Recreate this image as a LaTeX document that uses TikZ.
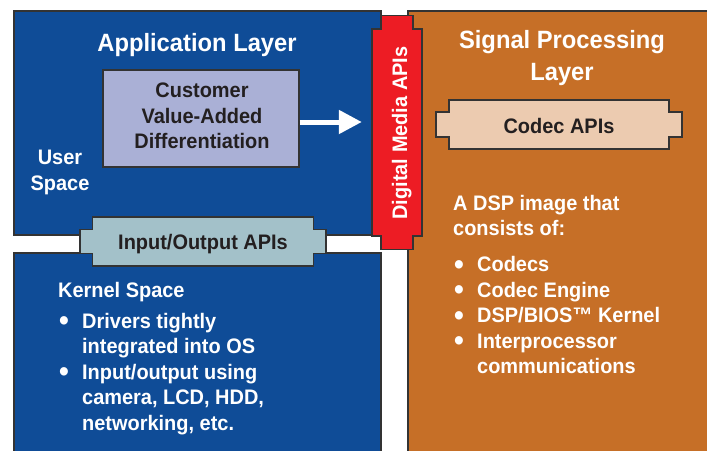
\documentclass[tikz,border=0pt]{standalone}
\usepackage{fontspec}
\setmainfont{Liberation Sans}[FakeStretch=0.95]
\usetikzlibrary{arrows.meta,calc}

\definecolor{appblue}{HTML}{0F4C97}
\definecolor{dsporange}{HTML}{C66F27}
\definecolor{dmred}{HTML}{ED1C24}
\definecolor{custlav}{HTML}{AAB0D6}
\definecolor{iogray}{HTML}{A3C1C9}
\definecolor{codecpeach}{HTML}{ECCBB0}
\definecolor{edgegray}{HTML}{333333}
\definecolor{darktext}{HTML}{231F20}

% bullet and indent for the lists
\newcommand{\bul}{\makebox[24pt][l]{\hspace{1pt}\raisebox{-2.5pt}[0pt][0pt]{\scalebox{1.4}{\textbullet}}}}
\newcommand{\ind}{\hspace*{24pt}}
% notched outline round a node: node, wide half w/h, narrow half w/h
\newcommand{\notchshape}[5]{%
  ($(#1)+(-#4,-#5)$) -- ($(#1)+(#4,-#5)$) -- ($(#1)+(#4,-#3)$) -- ($(#1)+(#2,-#3)$)
  -- ($(#1)+(#2,#3)$) -- ($(#1)+(#4,#3)$) -- ($(#1)+(#4,#5)$) -- ($(#1)+(-#4,#5)$)
  -- ($(#1)+(-#4,#3)$) -- ($(#1)+(-#2,#3)$) -- ($(#1)+(-#2,-#3)$) -- ($(#1)+(-#4,-#3)$) -- cycle}

\begin{document}
\begin{tikzpicture}[x=1pt,y=-1pt,
    layerbox/.style={draw=edgegray,line width=1.5pt,anchor=north west,inner sep=0},
    apibox/.style={draw=edgegray,line width=1.5pt},
    heading/.style={text=white,font=\bfseries\fontsize{25}{32}\selectfont,align=center,inner sep=0},
    bodytext/.style={text=white,font=\bfseries\fontsize{21}{25.5}\selectfont,align=left,inner sep=0,anchor=north west},
    apitext/.style={text=darktext,font=\bfseries\fontsize{21}{25.5}\selectfont,inner sep=0}]

  \useasboundingbox (0,0) rectangle (707,450);
  \clip (0,0) rectangle (707,450);

  % Layer boxes
  \node[layerbox,fill=appblue,minimum width=367pt,minimum height=224pt] (app) at (13,10) {};
  \node[layerbox,fill=appblue,minimum width=367pt,minimum height=220pt] (kernel) at (13,252) {};
  \node[layerbox,fill=dsporange,minimum width=320pt,minimum height=460pt] (dsp) at (407,10) {};

  % Customer block and arrow
  \node[apibox,fill=custlav,minimum width=196pt,minimum height=97pt] (cust) at (201,118.5) {};
  \node[apitext,align=center] (custtext) at (202,116) {Customer\\Value-Added\\Differentiation};

  % API bars
  \node[inner sep=0,minimum width=246pt,minimum height=24pt] (io) at (203,241.5) {};
  \filldraw[apibox,fill=iogray] \notchshape{io}{123}{12}{110.5}{24.5};
  \node[apitext,anchor=base] (iotext) at (203,249) {Input/Output APIs};

  \node[inner sep=0,minimum width=246pt,minimum height=25pt] (codec) at (559,124.5) {};
  \filldraw[apibox,fill=codecpeach] \notchshape{codec}{123}{12.5}{110}{24.5};
  \node[apitext,anchor=base] (codectext) at (559,133) {Codec APIs};

  \node[inner sep=0,minimum width=50pt,minimum height=207pt] (dm) at (397,132.5) {};
  \filldraw[apibox,fill=dmred] \notchshape{dm}{25}{103.5}{16}{117};
  \node[apitext,text=white,rotate=90,anchor=base] (dmtext) at (407,133) {Digital Media APIs};

  \draw[white,line width=5pt,-{Triangle[length=23pt,width=23pt]},shorten >=10pt]
    ([yshift=-3.5pt]cust.east) -- ([yshift=-3.5pt]cust.east -| dm.west);

  % Titles
  \node[heading,anchor=base] (apptitle) at (197,51) {Application Layer};
  \node[heading,anchor=north] (dsptitle) at (562,30) {Signal Processing\\Layer};

  % Body texts
  \node[bodytext,align=center,anchor=north] (user) at (60,150) {User\\Space};
  \node[bodytext] (kernellist) at (58,282) {Kernel Space\\[5.5pt]
    \bul Drivers tightly\\
    \ind integrated into OS\\
    \bul Input/output using\\
    \ind camera, LCD, HDD,\\
    \ind networking, etc.};
  \node[bodytext] (dsplist) at (453,195) {A DSP image that\\
    consists of:\\[10.5pt]
    \bul Codecs\\
    \bul Codec Engine\\
    \bul DSP/BIOS™ Kernel\\
    \bul Interprocessor\\
    \ind communications};
\end{tikzpicture}
\end{document}
